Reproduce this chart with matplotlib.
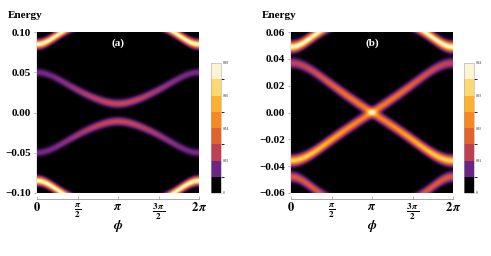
import numpy as np
import matplotlib
matplotlib.use('Agg')
from matplotlib import pyplot as plt, rcParams
from matplotlib.colors import LinearSegmentedColormap, ListedColormap, BoundaryNorm
from matplotlib.cm import ScalarMappable

rcParams.update({'font.family': 'Liberation Serif', 'font.weight': 'bold',
                 'mathtext.fontset': 'stix'})

# Colour levels (bottom to top)
level_colors = ['#000000', '#6b2585', '#bf3f55', '#e3622a', '#f7871e', '#fbb12d', '#fdd771', '#fff3d6']

phi_ticks = [0, np.pi / 2, np.pi, 3 * np.pi / 2, 2 * np.pi]
phi_labels = [r'$\mathbf{0}$', r'$\frac{\pi}{2}$', r'$\pi$', r'$\frac{3\,\pi}{2}$', r'$\mathbf{2}\,\pi$']

# Panel (a): band energies at phi=0 and phi=pi, peak heights there
a_edge_energy = [0.085, 0.050, -0.050, -0.085]
a_mid_energy = [0.118, 0.011, -0.011, -0.118]
a_edge_amp = [0.085, 0.013, 0.013, 0.085]
a_mid_amp = [0.085, 0.026, 0.026, 0.085]
a_kappa, a_sigma = 1.58, 0.0032
a_yticks = [-0.10, -0.05, 0.00, 0.05, 0.10]
a_cbar_ticks = [0, 0.02, 0.04, 0.06, 0.08]

# Panel (b)
b_edge_energy = [0.049, 0.037, -0.036, -0.048]
b_mid_energy = [0.072, 0.0, 0.0, -0.072]
b_edge_amp = [0.042, 0.012, 0.034, 0.016]
b_mid_amp = [0.042, 0.022, 0.022, 0.016]
b_kappa, b_sigma = 1.125, 0.0023
b_yticks = [-0.06, -0.04, -0.02, 0.00, 0.02, 0.04, 0.06]
b_cbar_ticks = [0, 0.01, 0.02, 0.03, 0.04]

smooth_cmap = LinearSegmentedColormap.from_list('sunset', level_colors)
step_cmap = ListedColormap(level_colors)


def spectral_map(edge_e, mid_e, edge_a, mid_a, kappa, sigma, emax):
    phi = np.linspace(0, 2 * np.pi, 500)
    energy = np.linspace(-emax, emax, 400)
    c2, s2 = np.cos(phi / 2) ** 2, np.sin(phi / 2) ** 2
    h = c2 / (1 + kappa * s2)
    dens = np.zeros((energy.size, phi.size))
    for e0, em, a0, am in zip(edge_e, mid_e, edge_a, mid_a):
        band = np.sign(e0) * np.sqrt(em ** 2 + (e0 ** 2 - em ** 2) * h)
        amp = am + (a0 - am) * c2
        dens += amp * np.exp(-(energy[:, None] - band[None, :]) ** 2 / (2 * sigma ** 2))
    return dens


fig = plt.figure(figsize=(4.91, 2.56), dpi=100)

panels = [
    dict(left=37, cbar=211, label='(a)', emax=0.10, vmax=0.08, yticks=a_yticks, yfmt='%.2f',
         cticks=a_cbar_ticks, ctl=['0', '0.02', '0.04', '0.06', '0.08'],
         data=(a_edge_energy, a_mid_energy, a_edge_amp, a_mid_amp, a_kappa, a_sigma)),
    dict(left=291, cbar=464, label='(b)', emax=0.06, vmax=0.04, yticks=b_yticks, yfmt='%.2f',
         cticks=b_cbar_ticks, ctl=['0', '0.01', '0.02', '0.03', '0.04'],
         data=(b_edge_energy, b_mid_energy, b_edge_amp, b_mid_amp, b_kappa, b_sigma)),
]

W, H = 491, 256
for p in panels:
    ax = fig.add_axes([p['left'] / W, 1 - 193 / H, 162 / W, 161 / H])
    dens = spectral_map(*p['data'], p['emax'])
    ax.imshow(dens, extent=[0, 2 * np.pi, -p['emax'], p['emax']], origin='lower', aspect='auto',
              cmap=smooth_cmap, vmin=0, vmax=p['vmax'], interpolation='bilinear')
    ax.set_xlim(0, 2 * np.pi)
    ax.set_ylim(-p['emax'], p['emax'])

    for side in ('top', 'right'):
        ax.spines[side].set_visible(False)
    ax.spines['bottom'].set_position(('outward', 4))
    ax.spines['bottom'].set_color('#999999')
    ax.spines['bottom'].set_linewidth(0.6)
    ax.spines['left'].set_position(('outward', 1))
    ax.spines['left'].set_color('#cccccc')
    ax.spines['left'].set_linewidth(0.4)

    ax.set_xticks(phi_ticks)
    ax.set_xticklabels(phi_labels)
    ax.tick_params(axis='x', direction='in', length=2, width=0.5, color='#999999', pad=2)
    ax.set_yticks(p['yticks'])
    ax.set_yticklabels([(p['yfmt'] % v).replace('-', '\u2212') for v in p['yticks']])
    ax.tick_params(axis='y', direction='out', length=1.5, width=0.5, color='#888888', labelsize=8, pad=2)
    for t in ax.get_xticklabels():
        t.set_fontsize(9 if t.get_text() in (phi_labels[0], phi_labels[2], phi_labels[4]) else 9.5)

    ax.text(np.pi, p['emax'] * 0.86, p['label'], color='white', fontsize=8, ha='center', va='center',
            fontweight='bold')
    fig.text((p['left'] - 29) / W, 1 - 16 / H, 'Energy', fontsize=8, fontweight='bold', ha='left', va='center')
    fig.text((p['left'] + 81) / W, 1 - 226 / H, r'$\phi$', fontsize=9.5, ha='center', va='center')

    cax = fig.add_axes([p['cbar'] / W, 1 - 193 / H, 10 / W, 130 / H])
    levels = np.linspace(0, p['vmax'], 9)
    sm = ScalarMappable(norm=BoundaryNorm(levels, 8), cmap=step_cmap)
    cb = fig.colorbar(sm, cax=cax, ticks=p['cticks'])
    cb.set_ticklabels(p['ctl'])
    cb.outline.set_edgecolor('#aaaaaa')
    cb.outline.set_linewidth(0.4)
    cax.tick_params(length=0, labelsize=2.6, labelcolor='#777777', pad=1)

fig.savefig('out.png', dpi=100)
